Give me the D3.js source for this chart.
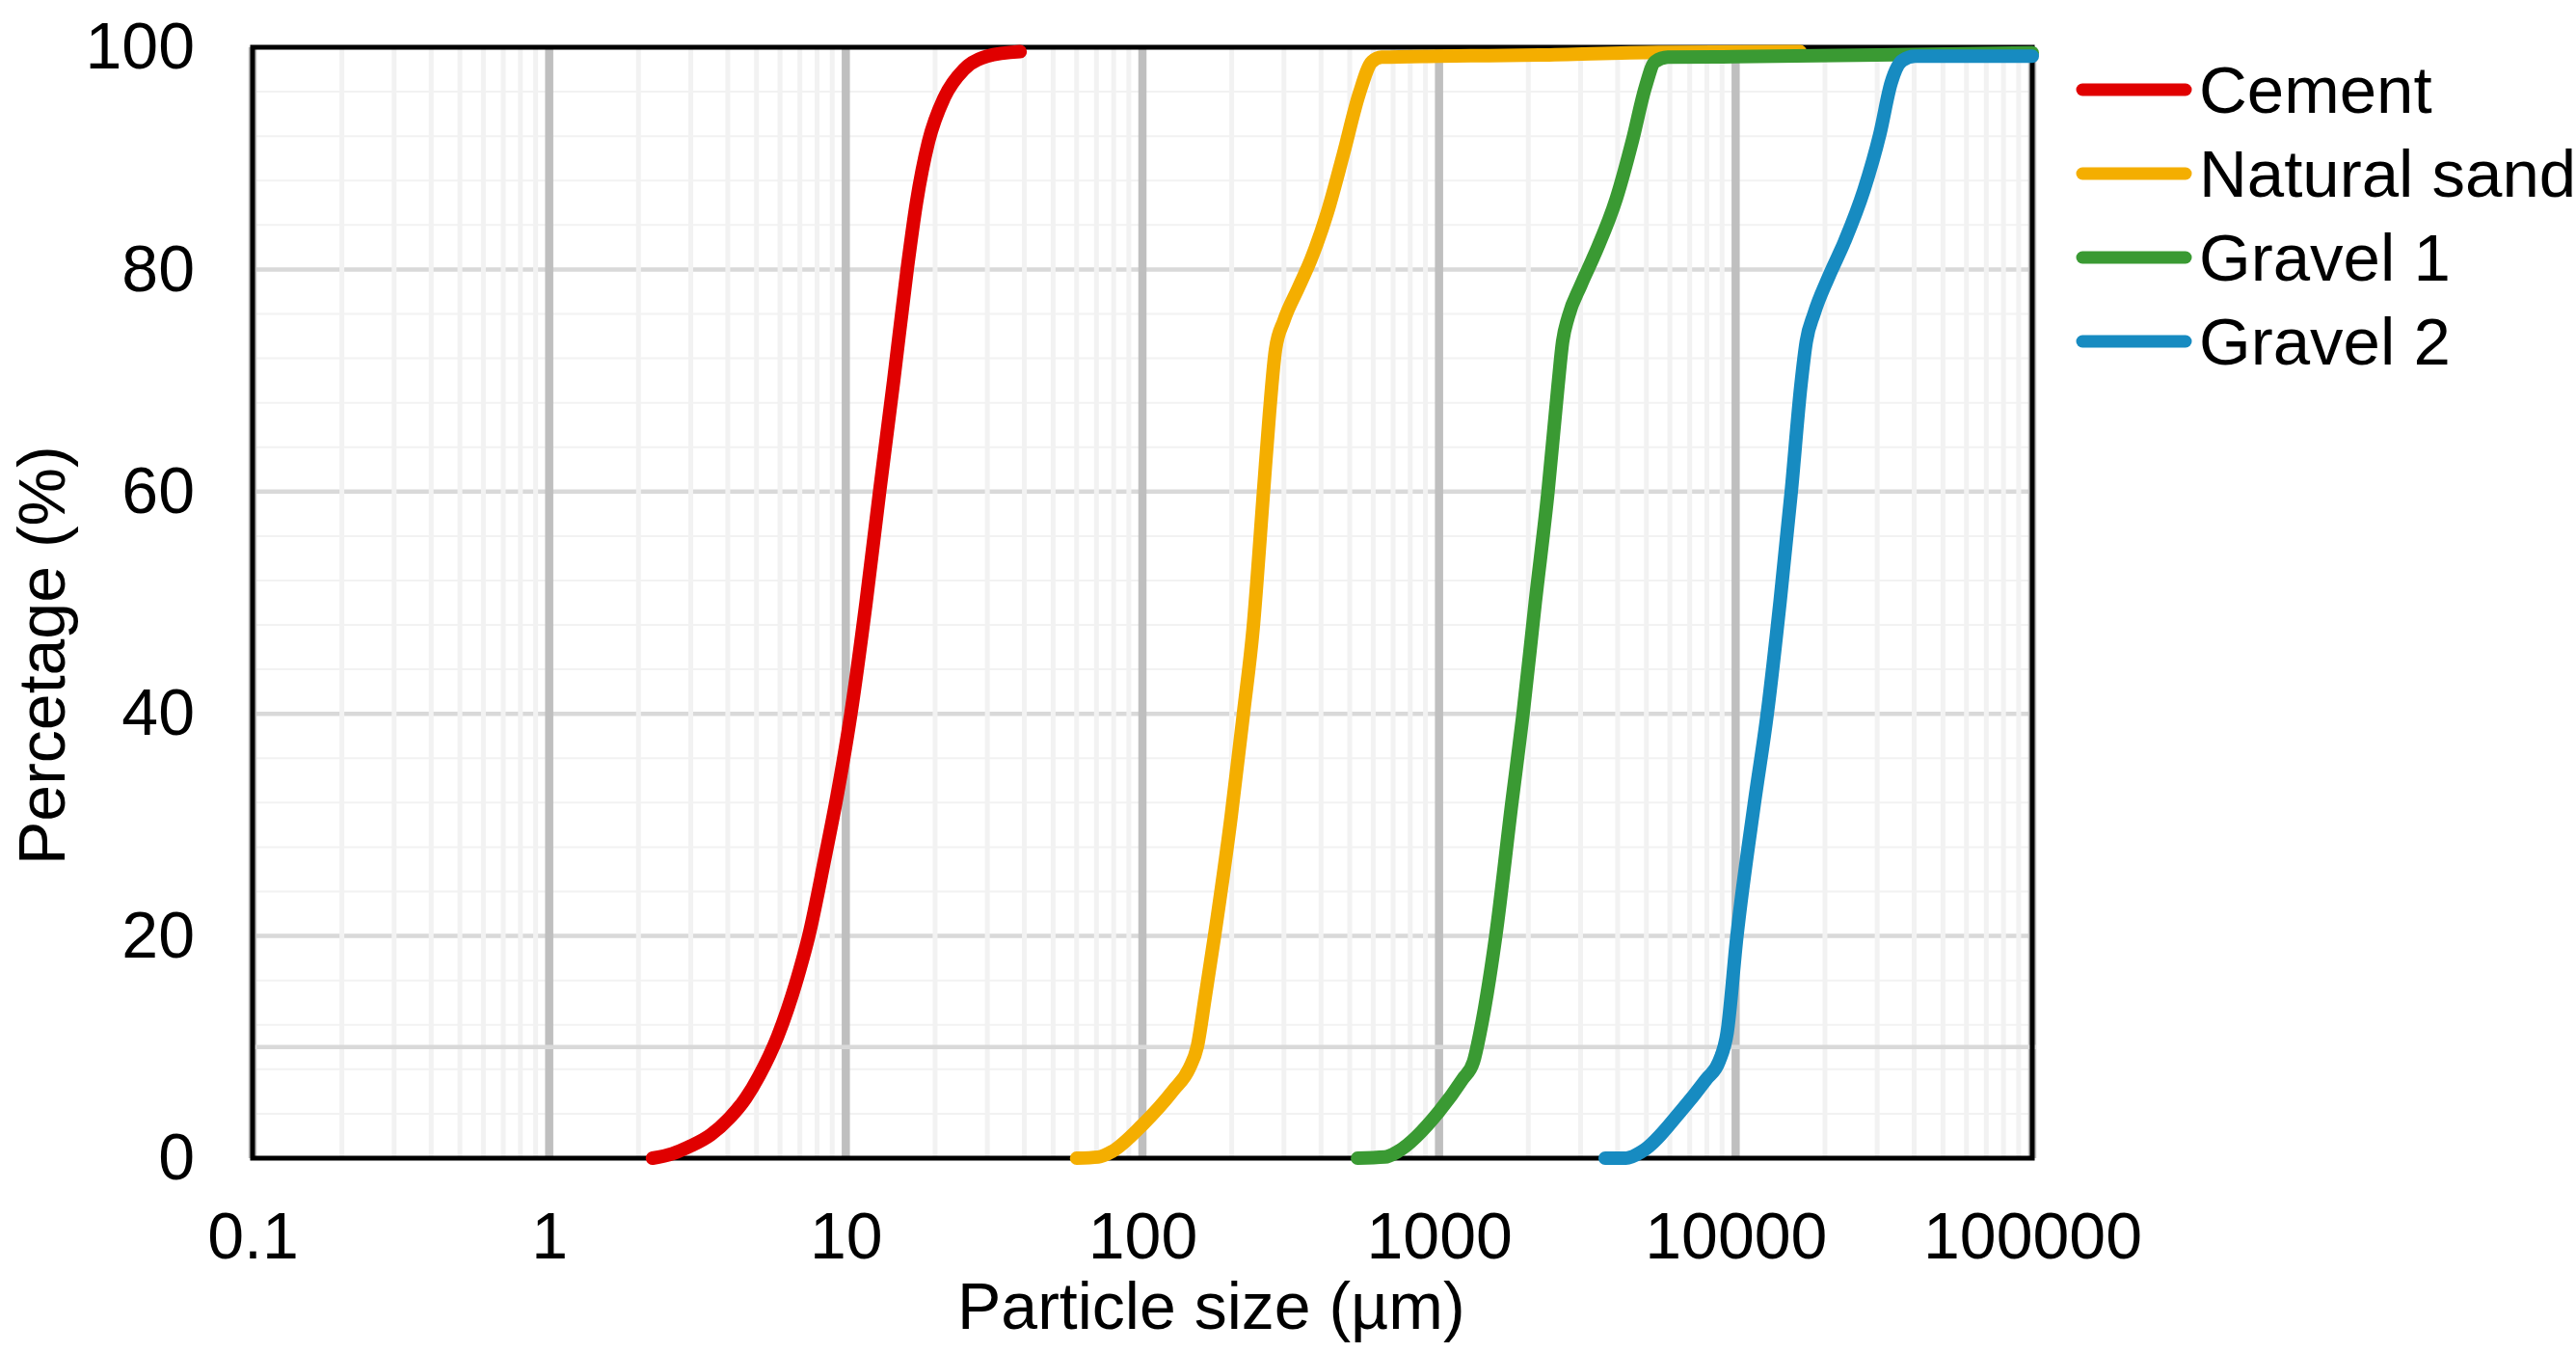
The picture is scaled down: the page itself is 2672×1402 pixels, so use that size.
<!DOCTYPE html>
<html>
<head>
<meta charset="utf-8">
<script src="https://cdn.jsdelivr.net/npm/d3@7"></script>
<style>
  html, body { margin: 0; padding: 0; background: #ffffff; }
  svg { display: block; }
  text { font-family: "Liberation Sans", Arial, sans-serif; fill: #000; }
</style>
</head>
<body>
<svg id="chart" width="2672" height="1402"></svg>
<script>
// ---------- data ----------
const seriesNames = ["Cement", "Natural sand", "Gravel 1", "Gravel 2"];
const seriesColors = ["#E00000", "#F4AE00", "#3A9A33", "#178BC1"];

const cementSize = [2.23, 2.6, 3.0, 3.5, 4.05, 4.6, 5.1, 5.9, 7.0, 7.5, 8.5, 9.4, 10.4, 11.7, 13.0, 14.5, 16.1, 17.3, 19.0, 21.5, 25.0, 30.0, 38.7];
const cementPct  = [0, 0.4, 1.1, 2.1, 3.6, 5.4, 7.4, 11, 17, 20, 27, 33, 40, 50, 60, 70, 80, 86, 91.5, 95.5, 98.0, 99.2, 99.6];

const sandSize = [60, 71, 79, 100, 127, 144, 153, 163, 175, 199, 219, 236, 256, 268, 281, 300, 335, 370, 420, 475, 538, 594, 641, 1000, 2180, 5470, 16500];
const sandPct  = [0, 0.1, 0.6, 3.0, 6.1, 8.1, 10, 14.6, 20, 30.7, 40, 47.6, 60, 67, 72.8, 75.4, 78.3, 80.9, 85.1, 90.3, 95.8, 98.7, 99.1, 99.2, 99.3, 99.55, 99.6];

const gravel1Size = [531, 656, 726, 1000, 1200, 1307, 1375, 1553, 1760, 1920, 2110, 2330, 2520, 2610, 2725, 3010, 3328, 3963, 4487, 4961, 5346, 5905, 10000, 30000, 100000];
const gravel1Pct  = [0, 0.1, 0.6, 4.2, 7.1, 8.7, 11.3, 20, 32, 40, 50, 60, 69.6, 73.5, 75.7, 78.6, 81.2, 86.4, 91.6, 96.4, 98.7, 99.1, 99.15, 99.3, 99.5];

const gravel2Size = [3631, 4268, 4833, 6517, 7958, 8790, 9360, 10090, 11570, 12780, 14130, 15400, 16600, 17300, 18370, 20560, 23280, 27040, 30640, 33440, 36460, 40290, 100000];
const gravel2Pct  = [0, 0, 0.6, 4.2, 7.1, 8.7, 11.3, 19.9, 32, 40, 50.2, 60, 69.6, 73.5, 76, 79.3, 82.5, 87.1, 92.2, 96.8, 98.8, 99.2, 99.2];

const xTickValues = [0.1, 1, 10, 100, 1000, 10000, 100000];
const xTickLabels = ["0.1", "1", "10", "100", "1000", "10000", "100000"];
const yTickValues = [0, 20, 40, 60, 80, 100];
const yTickLabels = ["0", "20", "40", "60", "80", "100"];
const refLinePct = [10];

const xTitle = "Particle size (µm)";
const yTitle = "Percetage (%)";

// ---------- layout ----------
const L = 262, R = 2108, T = 49, B = 1201;
const svg = d3.select("#chart");
const x = d3.scaleLog().domain([0.1, 100000]).range([L, R]);
const y = d3.scaleLinear().domain([0, 100]).range([B, T]);

svg.append("rect").attr("width", 2672).attr("height", 1402).attr("fill", "#fff");

// horizontal minor gridlines (every 4)
const hMinor = d3.range(4, 100, 4).filter(v => v % 20 !== 0);
svg.append("g").selectAll("line").data(hMinor).join("line")
  .attr("x1", L).attr("x2", R).attr("y1", d => y(d)).attr("y2", d => y(d))
  .attr("stroke", "#F2F2F2").attr("stroke-width", 2);

// horizontal major gridlines
svg.append("g").selectAll("line").data([20, 40, 60, 80]).join("line")
  .attr("x1", L).attr("x2", R).attr("y1", d => y(d)).attr("y2", d => y(d))
  .attr("stroke", "#D9D9D9").attr("stroke-width", 4.5);

// vertical minor gridlines
const vMinor = [];
xTickValues.slice(0, -1).forEach(d => { for (let k = 2; k <= 9; k++) vMinor.push(d * k); });
svg.append("g").selectAll("line").data(vMinor).join("line")
  .attr("x1", d => x(d)).attr("x2", d => x(d)).attr("y1", T).attr("y2", B)
  .attr("stroke", "#F2F2F2").attr("stroke-width", 5);

// vertical major gridlines
svg.append("g").selectAll("line").data(xTickValues).join("line")
  .attr("x1", d => x(d)).attr("x2", d => x(d)).attr("y1", T).attr("y2", B)
  .attr("stroke", "#BFBFBF").attr("stroke-width", 8.5);

// 10 % reference line
svg.append("g").selectAll("line").data(refLinePct).join("line")
  .attr("x1", L).attr("x2", R + 4).attr("y1", d => y(d)).attr("y2", d => y(d))
  .attr("stroke", "#D9D9D9").attr("stroke-width", 4.5);

// plot border
svg.append("rect").attr("x", L).attr("y", T).attr("width", R - L).attr("height", B - T)
  .attr("fill", "none").attr("stroke", "#000").attr("stroke-width", 5);

// axes (labels only)
const xAxis = d3.axisBottom(x).tickValues(xTickValues)
  .tickFormat((d, i) => xTickLabels[i]).tickSize(0).tickPadding(56);
const gx = svg.append("g").attr("transform", `translate(0,${B})`).call(xAxis);
gx.select(".domain").remove();
gx.selectAll("text").attr("font-size", 68).attr("fill", "#000")
  .style("font-family", '"Liberation Sans", Arial, sans-serif');

const yAxis = d3.axisLeft(y).tickValues(yTickValues)
  .tickFormat((d, i) => yTickLabels[i]).tickSize(0).tickPadding(60);
const gy = svg.append("g").attr("transform", `translate(${L},0)`).call(yAxis);
gy.select(".domain").remove();
gy.selectAll("text").attr("font-size", 68).attr("fill", "#000")
  .style("font-family", '"Liberation Sans", Arial, sans-serif');

// titles
svg.append("text").attr("x", 993).attr("y", 1378).attr("font-size", 68)
  .attr("text-anchor", "start").text(xTitle);
svg.append("text").attr("transform", "translate(67,897) rotate(-90)")
  .attr("font-size", 68).attr("text-anchor", "start").text(yTitle);

// series
const seriesSizes = [cementSize, sandSize, gravel1Size, gravel2Size];
const seriesPcts = [cementPct, sandPct, gravel1Pct, gravel2Pct];
const line = d3.line().x(d => x(d[0])).y(d => y(d[1])).curve(d3.curveMonotoneX);
seriesNames.forEach((name, i) => {
  const pts = seriesSizes[i].map((s, j) => [s, seriesPcts[i][j]]);
  svg.append("path").datum(pts).attr("d", line)
    .attr("fill", "none").attr("stroke", seriesColors[i])
    .attr("stroke-width", 14).attr("stroke-linecap", "round").attr("stroke-linejoin", "round");
});

// legend
const legendRows = [93, 180, 267, 354];
const lg = svg.append("g");
seriesNames.forEach((name, i) => {
  lg.append("line").attr("x1", 2160).attr("x2", 2267)
    .attr("y1", legendRows[i]).attr("y2", legendRows[i])
    .attr("stroke", seriesColors[i]).attr("stroke-width", 13).attr("stroke-linecap", "round");
  lg.append("text").attr("x", 2281).attr("y", legendRows[i] + 24)
    .attr("font-size", 69).text(name);
});
</script>
</body>
</html>
